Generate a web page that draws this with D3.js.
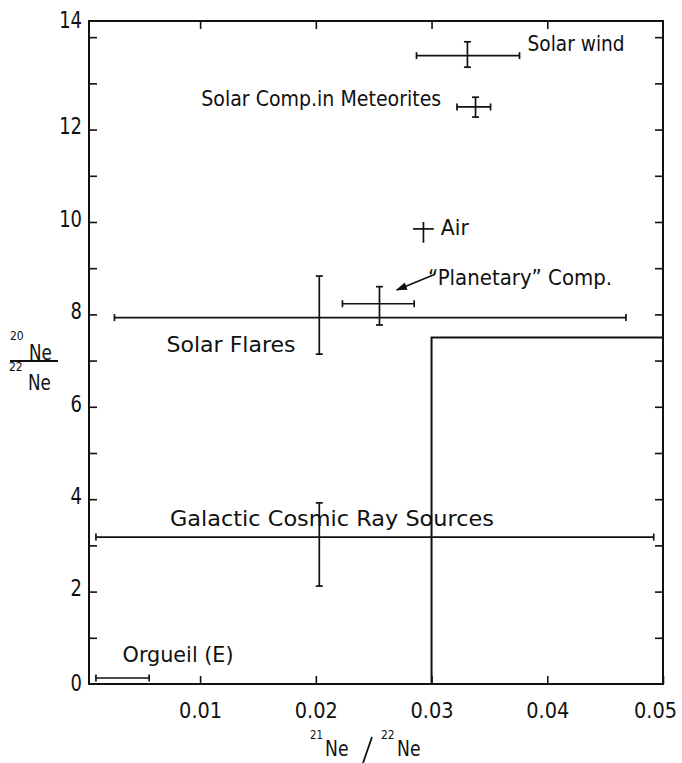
<!DOCTYPE html>
<html>
<head>
<meta charset="utf-8">
<script src="https://cdn.jsdelivr.net/npm/d3@7"></script>
<style>
  body { margin: 0; background: #fff; }
  text { font-family: "DejaVu Sans", sans-serif; fill: #111; }
</style>
</head>
<body>
<div id="chart"></div>
<script>
const names = ["Solar wind", "Solar Comp.in Meteorites", "Air", "\u201CPlanetary\u201D Comp.",
               "Solar Flares", "Galactic Cosmic Ray Sources", "Orgueil (E)"];
const xMid = [0.0331, 0.0338, 0.0293, 0.0255, 0.0203, 0.0203, null];
const xLo  = [0.0287, 0.0322, 0.0284, 0.0223, 0.0026, 0.0010, 0.0010];
const xHi  = [0.0376, 0.0351, 0.0302, 0.0285, 0.0468, 0.0492, 0.0056];
const yMid = [13.6, 12.49, 9.85, 8.23, 7.93, 3.18, 0.13];
const yLo  = [13.35, 12.27, 9.55, 7.77, 7.14, 2.12, null];
const yHi  = [13.9, 12.7, 10.0, 8.6, 8.83, 3.92, null];

// boundary line (step)
const stepX = [0.030, 0.030, 0.050];
const stepY = [0, 7.5, 7.5];

// tick values
const xTicks = [0.01, 0.02, 0.03, 0.04, 0.05];
const yTicks = d3.range(1, 15);

const svg = d3.select("#chart")
  .append("svg")
  .attr("width", 682)
  .attr("height", 763);

const margin = { top: 21, right: 19, bottom: 79, left: 89 };
const width  = 682 - margin.left - margin.right;
const height = 763 - margin.top - margin.bottom;

const g = svg.append("g")
  .attr("transform", `translate(${margin.left},${margin.top})`);

const x = d3.scaleLinear().domain([0.0004, 0.05]).range([0, width]);
const y = d3.scaleLinear().domain([0, 14.35]).range([height, 0]);

const ink = "#111";

// squeeze text horizontally to mimic the narrow lettering
const squeeze = (sel, f) => sel.each(function () {
  const w = this.getComputedTextLength();
  if (w > 0) d3.select(this).attr("textLength", w * f).attr("lengthAdjust", "spacingAndGlyphs");
});

// axes (inward ticks)
const styleAxis = sel => {
  sel.select(".domain").remove();
  sel.selectAll(".tick line").attr("stroke", ink).attr("stroke-width", 1.6);
};

g.append("g")
  .attr("transform", `translate(0,${height})`)
  .call(d3.axisBottom(x).tickValues(xTicks).tickSize(-8).tickPadding(19).tickFormat(d3.format(".2f")))
  .call(styleAxis)
  .selectAll("text")
    .style("font-size", "21px")
    .attr("font-family", null)
    .attr("fill", ink)
    .attr("x", d => d === 0.05 ? -8 : 0)
    .call(squeeze, 0.92);

g.append("g")
  .call(d3.axisTop(x).tickValues(xTicks.slice(0, 4)).tickSize(-8).tickFormat(""))
  .call(styleAxis);

g.append("g")
  .call(d3.axisLeft(y).tickValues(yTicks).tickSize(-8).tickPadding(7)
    .tickFormat(d => d % 2 === 0 ? d : ""))
  .call(styleAxis)
  .selectAll("text")
    .style("font-size", "23px")
    .attr("font-family", null)
    .attr("fill", ink)
    .attr("y", d => d === 14 ? -17 : -3)
    .call(squeeze, 0.78);

// zero label
g.append("text")
  .attr("x", -7).attr("y", y(0)).attr("dy", "0.32em")
  .attr("text-anchor", "end").style("font-size", "23px").text("0")
  .call(squeeze, 0.78);

g.append("g")
  .attr("transform", `translate(${width},0)`)
  .call(d3.axisRight(y).tickValues(yTicks).tickSize(-8).tickFormat(""))
  .call(styleAxis);

// frame
g.append("rect")
  .attr("width", width).attr("height", height)
  .attr("fill", "none").attr("stroke", ink).attr("stroke-width", 2);

// step boundary
g.append("path")
  .datum(stepX.map((v, i) => [v, stepY[i]]))
  .attr("fill", "none").attr("stroke", ink).attr("stroke-width", 2)
  .attr("d", d3.line().x(d => x(d[0])).y(d => y(d[1])));

// error bars
const pts = names.map((n, i) => ({ n, xm: xMid[i], xl: xLo[i], xh: xHi[i], ym: yMid[i], yl: yLo[i], yh: yHi[i] }));
const cap = 3.5;
const bars = g.append("g").attr("stroke", ink).attr("stroke-width", 1.7);

pts.forEach(d => {
  const capped = d.n !== "Air";
  bars.append("line")
    .attr("x1", x(d.xl)).attr("x2", x(d.xh))
    .attr("y1", y(d.ym)).attr("y2", y(d.ym));
  if (capped) {
    [d.xl, d.xh].forEach(v => bars.append("line")
      .attr("x1", x(v)).attr("x2", x(v))
      .attr("y1", y(d.ym) - cap).attr("y2", y(d.ym) + cap));
  }
  if (d.yl != null) {
    bars.append("line")
      .attr("x1", x(d.xm)).attr("x2", x(d.xm))
      .attr("y1", y(d.yl)).attr("y2", y(d.yh));
    if (capped) {
      [d.yl, d.yh].forEach(v => bars.append("line")
        .attr("x1", x(d.xm) - cap).attr("x2", x(d.xm) + cap)
        .attr("y1", y(v)).attr("y2", y(v)));
    }
  }
});

// labels next to the points
const notes = [
  { t: names[0], x: 0.0383, y: 13.87, w: 97 },
  { t: names[1], x: 0.0101, y: 12.68, w: 240 },
  { t: names[2], x: 0.0308, y: 9.89,  w: 28 },
  { t: names[3], x: 0.0297, y: 8.81,  w: 184 },
  { t: names[4], x: 0.0071, y: 7.34,  w: 129 },
  { t: names[5], x: 0.0074, y: 3.59,  w: 324 },
  { t: names[6], x: 0.0033, y: 0.65,  w: 111 }
];

g.selectAll(".note")
  .data(notes)
  .enter()
  .append("text")
    .attr("class", "note")
    .attr("x", d => x(d.x))
    .attr("y", d => y(d.y))
    .attr("dy", "0.36em")
    .attr("textLength", d => d.w)
    .attr("lengthAdjust", "spacingAndGlyphs")
    .style("font-size", "21px")
    .text(d => d.t);

// arrow to the planetary point
svg.append("defs").append("marker")
  .attr("id", "head")
  .attr("viewBox", "0 0 10 10")
  .attr("refX", 9).attr("refY", 5)
  .attr("markerWidth", 7).attr("markerHeight", 7)
  .attr("orient", "auto")
  .append("path").attr("d", "M0,1.5 L10,5 L0,8.5 Z").attr("fill", ink);

g.append("line")
  .attr("x1", x(0.0303)).attr("y1", y(8.87))
  .attr("x2", x(0.0270)).attr("y2", y(8.53))
  .attr("stroke", ink).attr("stroke-width", 1.6)
  .attr("marker-end", "url(#head)");

// y axis title: 20Ne over 22Ne
const yt = svg.append("g");
yt.append("text").attr("x", 10).attr("y", 340).style("font-size", "12px").text("20").call(squeeze, 0.9);
yt.append("text").attr("x", 29).attr("y", 360).style("font-size", "21px").text("Ne").call(squeeze, 0.8);
yt.append("line").attr("x1", 10).attr("x2", 58).attr("y1", 361).attr("y2", 361)
  .attr("stroke", ink).attr("stroke-width", 2);
yt.append("text").attr("x", 9).attr("y", 371).style("font-size", "12px").text("22").call(squeeze, 0.9);
yt.append("text").attr("x", 28).attr("y", 390).style("font-size", "21px").text("Ne").call(squeeze, 0.8);

// x axis title: 21Ne / 22Ne
const xt = svg.append("g");
xt.append("text").attr("x", 310).attr("y", 739).style("font-size", "12px").text("21").call(squeeze, 0.85);
xt.append("text").attr("x", 325).attr("y", 756).style("font-size", "21px").text("Ne").call(squeeze, 0.82);
xt.append("line").attr("x1", 372).attr("y1", 737).attr("x2", 363).attr("y2", 763)
  .attr("stroke", ink).attr("stroke-width", 1.8);
xt.append("text").attr("x", 381).attr("y", 739).style("font-size", "12px").text("22").call(squeeze, 0.9);
xt.append("text").attr("x", 397).attr("y", 756).style("font-size", "21px").text("Ne").call(squeeze, 0.82);
</script>
</body>
</html>
